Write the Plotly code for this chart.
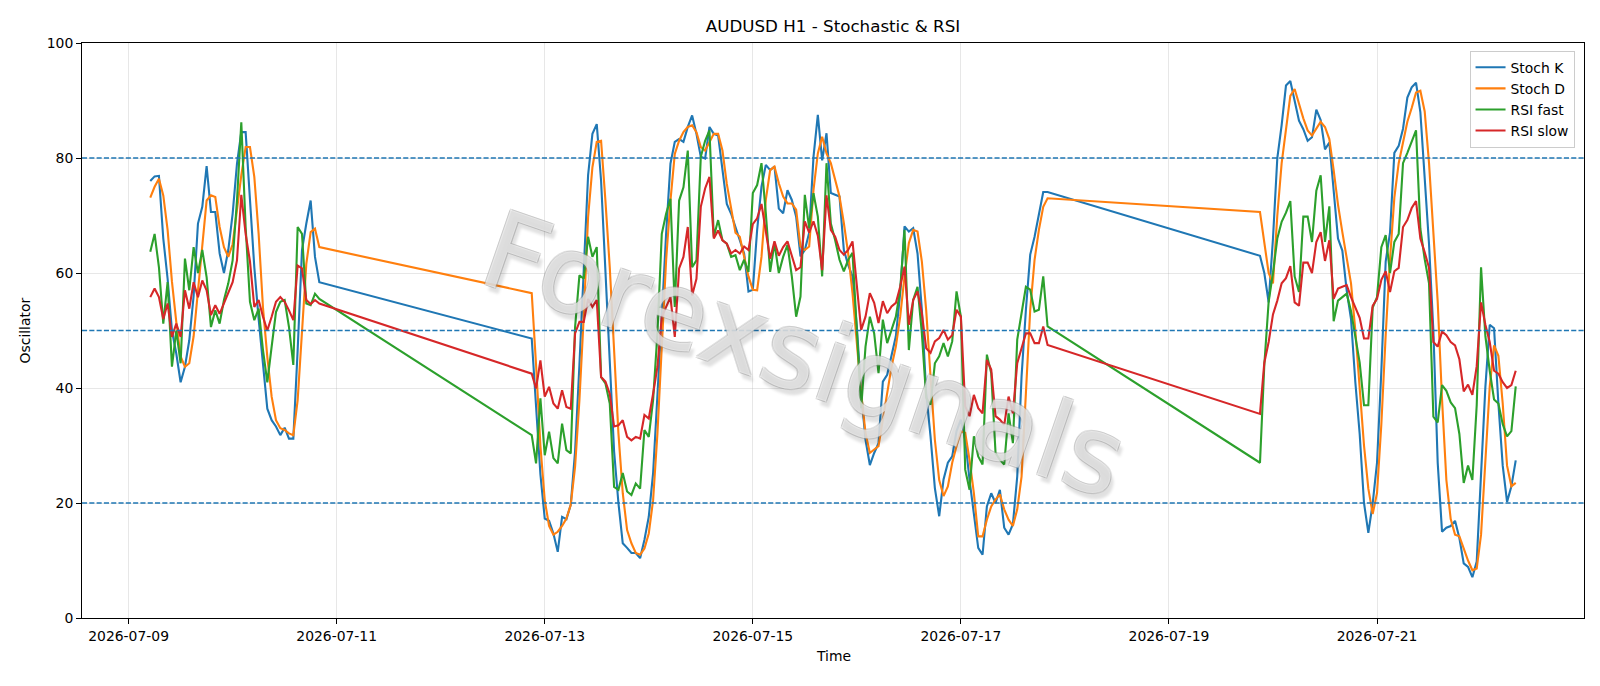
import pandas as pd
import plotly.graph_objects as go

# ---------------- data (hourly, three trading segments) ----------------
seg_starts = ["2026-07-09 05:00", "2026-07-12 21:00", "2026-07-19 21:00"]

stoch_k_1 = [76.0, 76.8, 76.9, 66, 59, 50, 46, 41, 43.7, 48.3,
             56, 68.6, 71.5, 78.6, 70.6, 70.6, 63.4, 60, 64, 70.3,
             79, 84.5, 84.5, 72.6, 61, 52, 43.7, 36.4, 34.4, 33.3,
             31.8, 33.1, 31.2, 31.2, 46.6, 64, 68.6, 72.6, 62.8, 58.4]
stoch_d_1 = [73.1, 75, 76.4, 73.5, 67.5, 58.5, 51.5, 45.5, 43.7, 44.3,
             49, 57, 65.5, 72.6, 73.5, 73.2, 68, 64.5, 62.8, 65,
             71, 77, 81.9, 81.9, 76.7, 66.8, 54, 45.4, 38.5, 34.4,
             33, 32.7, 32.1, 31.8, 37.9, 49.5, 61.6, 67.1, 67.7, 64.5]
rsi_fast_1 = [63.7, 66.8, 61, 51.2, 58.4, 43.7, 50, 44.3, 62.5, 57,
              64.5, 60, 64, 59.3, 50.6, 53.5, 51.2, 55.3, 58.2, 62.2,
              72.6, 86.2, 68, 55, 51.8, 53.8, 46.6, 41, 47.2, 53.2,
              55, 55.3, 50.6, 44, 68, 66.8, 54.7, 54.4, 56.4, 55.5]
rsi_slow_1 = [55.8, 57.3, 55.8, 52, 54.7, 48.9, 51.2, 48.9, 57, 53.8,
              58.4, 55.8, 58.7, 57, 52.7, 54.4, 52.9, 54.7, 56.7, 58.4,
              62.2, 73.6, 66.8, 62, 54.1, 55.3, 52.4, 50, 52.4, 55,
              55.8, 55, 53.5, 51.8, 61.3, 60.8, 55.3, 54.6, 55.3, 54.7]

stoch_k_2 = [48.6, 36, 25, 17.3, 16.9, 14.7, 11.5, 17.6, 17.2, 19.7,
             29, 44, 60, 77, 84.2, 85.9, 76, 61, 44, 29,
             20, 13, 12.2, 11.3, 11.3, 10.4, 13.6, 17.6, 25.2, 37.9,
             52.4, 66.8, 79, 82.8, 83.3, 82.8, 85.4, 87.4, 84.2, 80.2,
             79.9, 85.4, 84.2, 83.9, 78.4, 72, 70.3, 68, 65.7, 63.4,
             56.8, 57.1, 67.5, 75, 78.8, 77.9, 78.5, 71.2, 70.4, 74.4,
             72.7, 69.8, 62.9, 64, 67, 80.2, 87.5, 79.6, 84.3, 73.9,
             73.6, 73.3, 64, 61.4, 59.4, 50.7, 39.1, 31, 26.6, 28.7,
             30.4, 41.1, 42.3, 45.5, 49, 56.5, 68.1, 67.2, 67.8, 63.4,
             53.6, 39.1, 31.6, 22.6, 17.7, 24.1, 27, 28.1, 32.5, 34.5,
             31, 24, 18.3, 12.2, 11, 19.4, 21.7, 20, 22.3, 15.7,
             14.5, 16.3, 24.6, 42, 53.6, 63.2, 66.3, 70.4, 74.1, 74.1]
stoch_d_2 = [56.5, 44, 30, 20.5, 16, 14.5, 15, 16, 17.3, 19.7,
             26.3, 37.9, 52.4, 69.7, 78.4, 82.8, 83, 72.6, 61, 46.6,
             32.1, 21.7, 15.3, 13, 11.3, 11, 12.1, 14.7, 20.5, 32.1,
             46.6, 62.2, 72.6, 80.7, 83, 84.5, 85.4, 85.7, 84.5, 81.9,
             81.3, 82.8, 84.2, 84.2, 81.3, 75.5, 70.9, 67, 66.3, 62.8,
             59.4, 57.1, 57, 62.8, 72.7, 77.9, 78.5, 75.6, 73.3, 72.1,
             72.1, 71, 64.6, 64, 64.6, 74.4, 80.8, 83.7, 80.8, 79.1,
             76.2, 73.3, 68.7, 63.4, 56.5, 47.8, 39.1, 32.2, 28.7, 29.3,
             29.9, 34.5, 39.1, 43.7, 47.2, 52.4, 59.4, 65.2, 67.5, 67.2,
             62, 53.5, 42, 31, 24, 21.2, 22.9, 27, 29.9, 32.5,
             32.2, 27.5, 21.7, 14.2, 14.2, 17.1, 19.4, 20.6, 21.5, 18.9,
             17.1, 16, 18.9, 24.6, 39.1, 53.6, 62.3, 67.5, 71.5, 73]
rsi_fast_2 = [31.8, 26.9, 38.2, 28.3, 32.4, 27.8, 26.9, 33.8, 29.2, 28.6,
              50.6, 59.6, 59, 66.3, 62.8, 64.5, 41.9, 40.8, 37.3, 22.8,
              22.3, 25.2, 22, 21.4, 23.4, 22.5, 32.7, 31.5, 37.9, 49.5,
              66.8, 70.3, 72.9, 54.1, 72.6, 74.9, 81.3, 61, 62.2, 80.2,
              83, 84.8, 66.3, 69.2, 65.7, 65.1, 62.8, 63.1, 60.5, 62.3,
              60.2, 73.9, 75.3, 79.1, 70.4, 60.2, 65.2, 60, 62.8, 64.9,
              59.4, 52.4, 55.9, 73.6, 67.8, 73.9, 69.8, 59.4, 79.1, 68.6,
              65.7, 62.3, 60.3, 62.3, 63.5, 50, 36.5, 47.2, 52.4, 49.5,
              42.6, 51.9, 47.8, 50.1, 52.4, 57.1, 67.5, 46.6, 55.3, 57.6,
              49.5, 38.3, 37.1, 44.3, 45.5, 47.8, 45.5, 48.1, 56.8, 52.4,
              25.8, 22.3, 31.6, 28.1, 26.7, 45.8, 42.6, 28.7, 27.5, 26.7,
              35.6, 30.4, 48.4, 53, 57.6, 57.1, 53.3, 53.6, 59.4, 50.7]
rsi_slow_2 = [42.5, 39.9, 44.8, 38.5, 40.2, 37.3, 36.4, 39.6, 36.7, 36.4,
              49.5, 51.5, 51.5, 55.5, 54.1, 55.3, 41.9, 41.1, 39, 33.3,
              33.5, 34.4, 31.5, 30.9, 31.5, 31.2, 35.3, 34.7, 39, 43.7,
              52.4, 54.1, 55.8, 48.9, 60.8, 62.8, 68, 56.1, 59, 71.5,
              74.7, 76.7, 66, 67.4, 65.7, 65.1, 63.4, 64, 63.4, 64.6,
              64, 68.5, 69.5, 72, 67, 62.5, 65.5, 63, 64.5, 65.5,
              63, 60.5, 61, 69, 67, 69, 66.5, 60.5, 73.5, 67.5,
              66.3, 64, 63.2, 64, 65.5, 57.6, 50.1, 52.4, 56.5, 54.8,
              51.3, 55.1, 53, 54.2, 54.8, 57.6, 61.1, 51, 55.3, 56.8,
              53, 46.9, 46.1, 48.1, 48.7, 50.1, 48.4, 49.2, 53.6, 52.4,
              36.8, 35.1, 38.8, 36.5, 35.6, 44.9, 43.2, 35.1, 34.5, 33.6,
              38.5, 35.6, 44.3, 46.9, 49.5, 49.5, 47.8, 47.8, 50.7, 47.5]

stoch_k_3 = [63, 60, 54.9, 66, 80, 85.7, 92.6, 93.4, 89.9, 86.5,
             85, 83, 83.6, 88.4, 86.6, 81.5, 82.7, 74.3, 66, 63.9,
             57, 52, 41, 32, 20, 14.8, 19.9, 27, 43, 62,
             67, 80.9, 82.1, 85.1, 90.5, 92.3, 93.1, 88, 77, 65,
             50, 27, 15, 15.7, 16, 16.9, 13.9, 9.5, 8.9, 7.1,
             9.8, 25.3, 40.2, 51, 50.4, 37.3, 26.5, 20.2, 22.9, 27.4]
stoch_d_3 = [70.6, 65.4, 60, 58.2, 70, 79.1, 85.1, 90.8, 92, 89.3,
             86.9, 84.8, 83.9, 85.1, 86.3, 85.4, 83.3, 77.9, 71.9, 67.1,
             63, 58.2, 50, 40, 30, 22.5, 18.1, 21.7, 33.7, 49.2,
             62.4, 73.1, 79.1, 82.7, 86.3, 88.7, 91.4, 91.7, 88.1, 79.1,
             67, 55, 38, 24, 17.2, 14.5, 14.2, 12.1, 10, 8.3,
             8.6, 14.5, 28.3, 40.2, 47.4, 45.6, 37.3, 26.5, 22.9, 23.5]
rsi_fast_3 = [27, 44, 55, 60, 66, 68.9, 70.5, 72.5, 59.4, 56.7,
              69.8, 69.8, 65.4, 74.3, 77, 65.4, 71.6, 51.6, 55.2, 55.8,
              56.4, 53.4, 49.2, 44.4, 37, 37, 54, 55.8, 64.5, 66.6,
              60, 65.4, 66.8, 79.1, 80.9, 82.7, 84.8, 67.7, 62.4, 58.2,
              35, 34, 40.5, 39.5, 37.5, 36.5, 32, 23.5, 26.5, 24,
              37, 61, 49, 43, 38, 37.3, 33.7, 31.6, 32.5, 40.3]
rsi_slow_3 = [35.5, 44.4, 48, 52.8, 55.2, 58.2, 59.1, 61.2, 54.9, 54.3,
              61.8, 61.8, 60, 65.4, 67.1, 62.1, 65.7, 55.5, 57.3, 57.6,
              57.9, 55.8, 54, 52.2, 48.6, 48.6, 54.3, 55.5, 58.8, 60.3,
              56.7, 60.3, 60.9, 68, 69.2, 71.3, 72.5, 66, 63.6, 60.9,
              48, 47.2, 49.8, 49.2, 48, 47.4, 45, 39.4, 40.6, 38.8,
              43.8, 54.9, 51, 48, 43, 42.5, 41, 40, 40.5, 43]

series_names = ["Stoch K", "Stoch D", "RSI fast", "RSI slow"]
levels = [20, 50, 80]
title_text = "AUDUSD H1 - Stochastic & RSI"
watermark_text = "Forexsignals"

# ---------------- assemble ----------------
segments = [
    (stoch_k_1, stoch_d_1, rsi_fast_1, rsi_slow_1),
    (stoch_k_2, stoch_d_2, rsi_fast_2, rsi_slow_2),
    (stoch_k_3, stoch_d_3, rsi_fast_3, rsi_slow_3),
]
times = []
series = [[], [], [], []]
for start, seg in zip(seg_starts, segments):
    n = len(seg[0])
    assert all(len(s) == n for s in seg)
    times.extend(pd.date_range(start, periods=n, freq="h"))
    for i, s in enumerate(seg):
        series[i].extend(s)

colors = ["#1f77b4", "#ff7f0e", "#2ca02c", "#d62728"]

fig = go.Figure()
for name, vals, col in zip(series_names, series, colors):
    fig.add_trace(go.Scatter(x=times, y=vals, mode="lines", name=name,
                             line=dict(color=col, width=2.1)))

t0, t1 = times[0], times[-1]
span = t1 - t0
xr = [t0 - 0.05 * span, t1 + 0.05 * span]

for lv in levels:
    fig.add_shape(type="line", xref="paper", x0=0, x1=1, yref="y", y0=lv, y1=lv,
                  line=dict(color="#1f77b4", width=1.4, dash="5.1px,2.2px"))

grid = "rgba(176,176,176,0.3)"
axis_common = dict(ticks="outside", ticklen=4.9, tickwidth=1.1, tickcolor="black",
                   showline=True, linecolor="black", linewidth=1.1, mirror=True,
                   showgrid=True, gridcolor=grid, gridwidth=1.1, zeroline=False,
                   tickfont=dict(size=13.9, color="black"))

fig.update_layout(
    width=1600, height=686,
    margin=dict(l=82, r=16, t=43, b=68),
    paper_bgcolor="white", plot_bgcolor="white",
    font=dict(family="DejaVu Sans", size=13.9, color="black"),
    title=dict(text=title_text, x=0.5, xref="paper", y=1 - 26.5 / 686, yref="container",
               xanchor="center", yanchor="middle", font=dict(size=16.7, color="black")),
    xaxis=dict(type="date", range=xr, tick0="2026-07-09", dtick=2 * 86400000,
               tickformat="%Y-%m-%d", **axis_common),
    yaxis=dict(range=[0, 100], tick0=0, dtick=20, **axis_common),
    legend=dict(x=0.9937, y=0.9865, xanchor="right", yanchor="top",
                bgcolor="rgba(255,255,255,0.8)", bordercolor="#cccccc", borderwidth=1,
                font=dict(size=13.9), tracegroupgap=0),
    showlegend=True,
)

fig.add_annotation(text="Time", xref="paper", yref="paper", x=0.5, y=(618.4 - 656) / 575.5,
                   showarrow=False, xanchor="center", yanchor="middle",
                   font=dict(size=13.9, color="black"))
fig.add_annotation(text="Oscillator", xref="paper", yref="paper", x=(24.5 - 81.6) / 1502.1, y=0.5,
                   showarrow=False, xanchor="center", yanchor="middle", textangle=-90,
                   font=dict(size=13.9, color="black"))
outline = "rgba(150,150,150,0.5)"
fig.add_annotation(text=watermark_text, xref="paper", yref="paper", x=0.481, y=0.458,
                   showarrow=False, xanchor="center", yanchor="middle", textangle=19,
                   font=dict(size=108, family="DejaVu Sans", color="rgba(255,255,255,0.6)",
                             shadow=(f"1px 1px 0px {outline}, -1px -1px 0px {outline}, "
                                     f"1px -1px 0px {outline}, -1px 1px 0px {outline}, "
                                     "5px 5px 3px rgba(0,0,0,0.2)")))

fig.write_html("out.html")
